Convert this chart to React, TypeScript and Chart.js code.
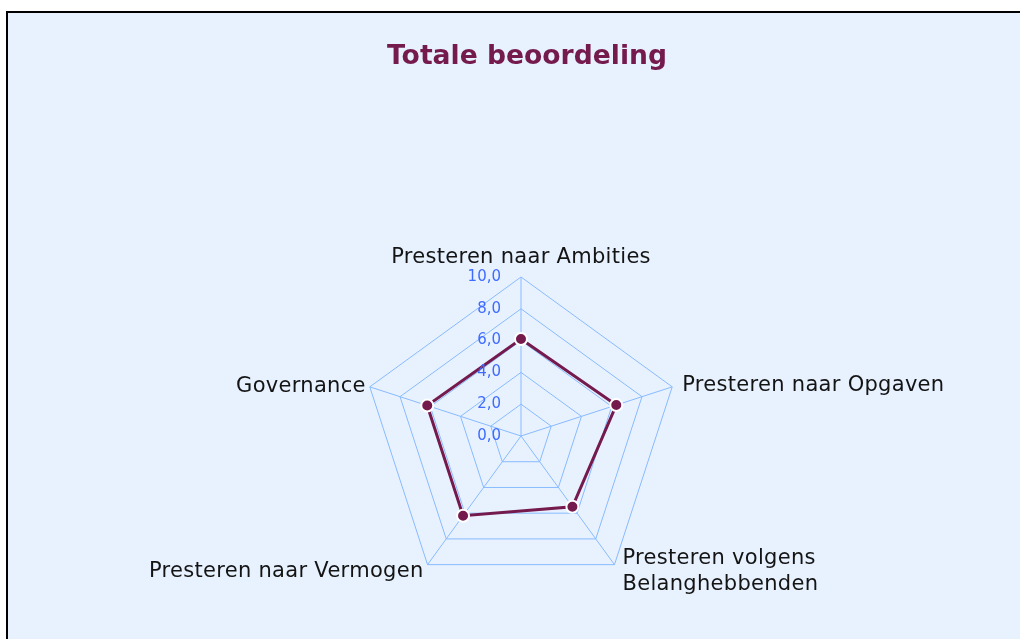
import React, { useEffect, useRef } from "react";
import { Chart, registerables } from "chart.js";

Chart.register(...registerables);

const TITLE = "Totale beoordeling";
const CATEGORIES: (string | string[])[] = [
  "Presteren naar Ambities",
  "Presteren naar Opgaven",
  ["Presteren volgens", "Belanghebbenden"],
  "Presteren naar Vermogen",
  "Governance",
];
const SCORES = [6.1, 6.3, 5.5, 6.2, 6.2];
const TICK_VALUES = [0, 2, 4, 6, 8, 10];

const PURPLE = "#751A4D";
const GRID = "#88BAFF";
const TICK_COLOR = "#3F6BFF";
const BG = "#E8F2FF";

const labelPlugin = {
  id: "customLabels",
  afterDatasetsDraw(chart: any) {
    const scale = chart.scales.r;
    const ctx = chart.ctx;
    ctx.save();
    // tick labels
    ctx.font = "15px 'DejaVu Sans'";
    ctx.fillStyle = TICK_COLOR;
    ctx.textAlign = "right";
    ctx.textBaseline = "middle";
    TICK_VALUES.forEach((v) => {
      const d = scale.getDistanceFromCenterForValue(v);
      ctx.fillText(v.toFixed(1).replace(".", ","), scale.xCenter - 20, scale.yCenter - d);
    });
    // point labels
    ctx.font = "21px 'DejaVu Sans'";
    try {
      (ctx as any).letterSpacing = "0.3px";
    } catch (e) {}
    ctx.fillStyle = "#141414";
    ctx.textBaseline = "alphabetic";
    const cfg = [
      { align: "center", dx: 0, dy: -14 },
      { align: "left", dx: 10, dy: 4 },
      { align: "left", dx: 8, dy: -1 },
      { align: "right", dx: -4, dy: 12 },
      { align: "right", dx: -4, dy: 5 },
    ];
    CATEGORIES.forEach((lab, i) => {
      const p = scale.getPointPosition(i, scale.drawingArea);
      const c = cfg[i];
      ctx.textAlign = c.align;
      const lines = Array.isArray(lab) ? lab : [lab];
      lines.forEach((ln, k) => {
        ctx.fillText(ln, p.x + c.dx, p.y + c.dy + k * 26);
      });
    });
    ctx.restore();
  },
};

export default function App() {
  const ref = useRef<HTMLCanvasElement>(null);
  useEffect(() => {
    if (!ref.current) return;
    const chart = new Chart(ref.current, {
      type: "radar",
      data: {
        labels: CATEGORIES,
        datasets: [
          {
            data: SCORES,
            borderColor: PURPLE,
            borderWidth: 3,
            backgroundColor: "rgba(0,0,0,0)",
            fill: false,
            pointRadius: 6,
            pointBackgroundColor: PURPLE,
            pointBorderColor: "#FFFFFF",
            pointBorderWidth: 2,
          },
        ],
      },
      options: {
        animation: false,
        responsive: false,
        layout: { padding: { left: 362, right: 340, top: 277, bottom: 44 } },
        plugins: { legend: { display: false }, title: { display: false }, tooltip: { enabled: false } },
        scales: {
          r: {
            min: 0,
            max: 10,
            ticks: { stepSize: 2, display: false },
            grid: { color: GRID, lineWidth: 1 },
            angleLines: { color: GRID, lineWidth: 1 },
            pointLabels: { display: false },
          },
        },
      },
      plugins: [labelPlugin],
    });
    return () => chart.destroy();
  }, []);
  return (
    <div>
      <div
        style={{
          position: "fixed",
          left: 6,
          top: 11,
          right: -20,
          bottom: -20,
          border: "2px solid #000",
          background: BG,
        }}
      />
      <div
        style={{
          position: "fixed",
          left: 0,
          top: 40,
          width: 1054,
          textAlign: "center",
          font: "bold 26.6px 'DejaVu Sans'",
          lineHeight: "30px",
          color: PURPLE,
        }}
      >
        {TITLE}
      </div>
      <canvas
        ref={ref}
        width={1020}
        height={639}
        style={{ position: "fixed", left: 0, top: 0, width: 1020, height: 639 }}
      />
    </div>
  );
}
